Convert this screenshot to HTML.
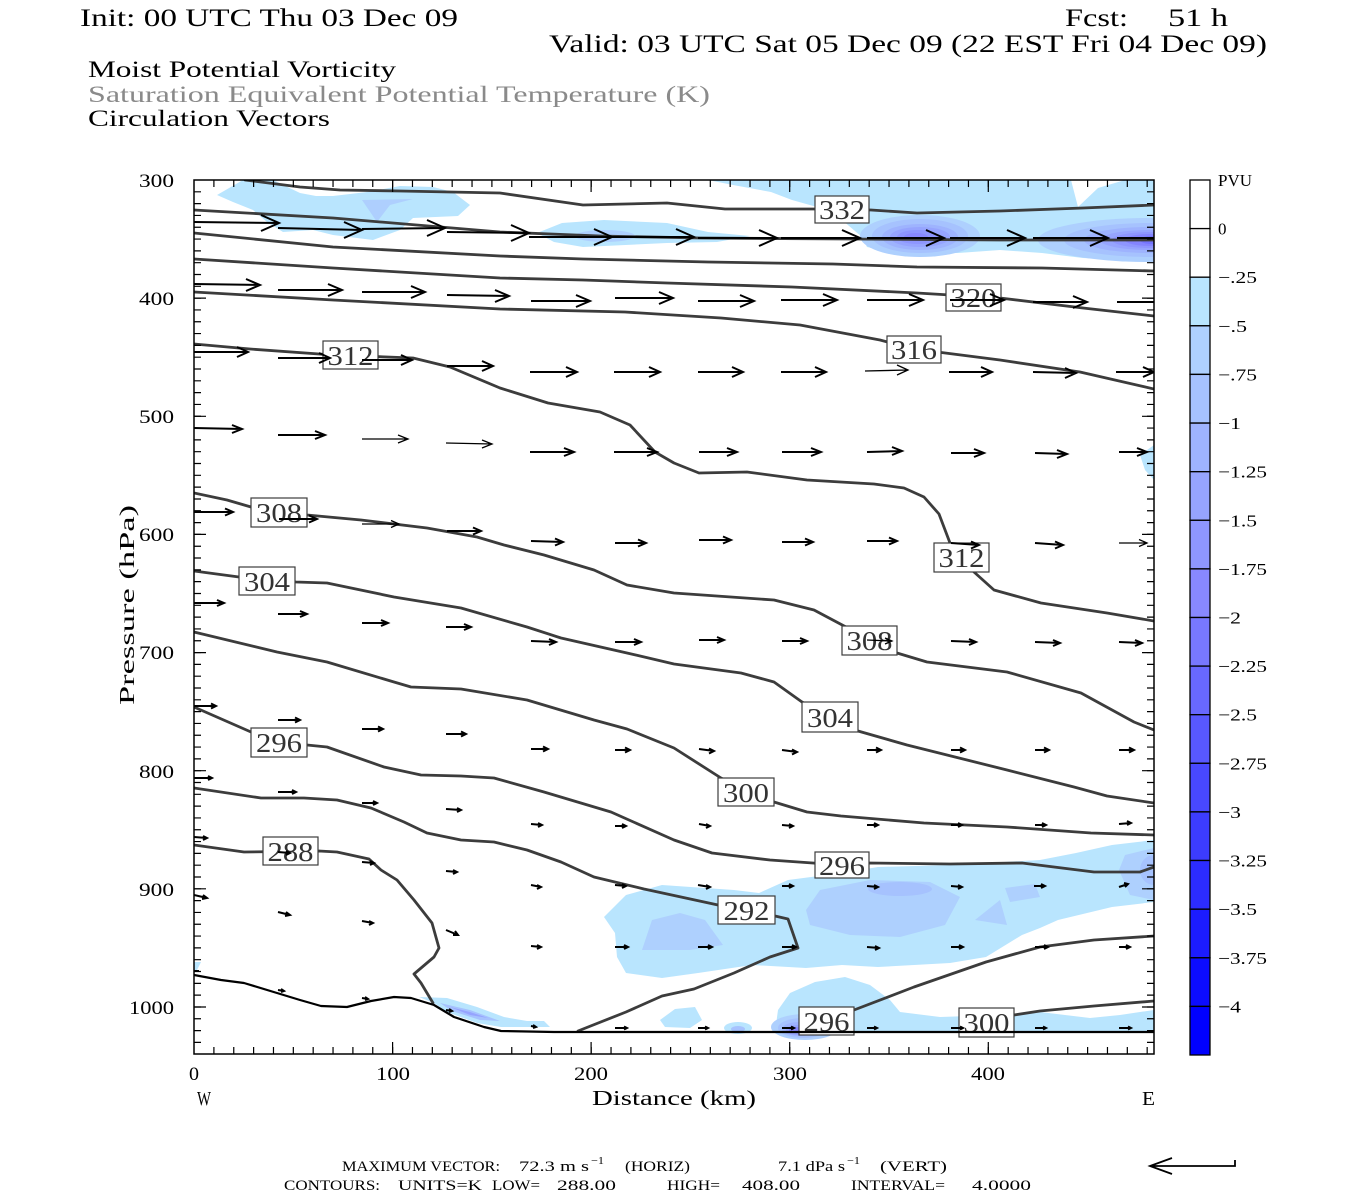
<!DOCTYPE html>
<html><head><meta charset="utf-8"><style>
html,body{margin:0;padding:0;background:#fff;}
svg{display:block;}
</style></head><body>
<svg xmlns="http://www.w3.org/2000/svg" width="1350" height="1200" viewBox="0 0 1350 1200">
<defs><clipPath id="pc"><rect x="194" y="180" width="960" height="874"/></clipPath></defs>
<rect x="0" y="0" width="1350" height="1200" fill="#fff"/>

<!-- Titles -->
<g font-family="Liberation Serif, DejaVu Serif, serif" fill="#000">
<text x="80" y="26" font-size="25" textLength="378" lengthAdjust="spacingAndGlyphs">Init: 00 UTC Thu 03 Dec 09</text>
<text x="1065" y="26" font-size="25" textLength="63" lengthAdjust="spacingAndGlyphs">Fcst:</text>
<text x="1168" y="26" font-size="25" textLength="60" lengthAdjust="spacingAndGlyphs">51 h</text>
<text x="549" y="52" font-size="25" textLength="718" lengthAdjust="spacingAndGlyphs">Valid: 03 UTC Sat 05 Dec 09 (22 EST Fri 04 Dec 09)</text>
<text x="88" y="77" font-size="23" textLength="308" lengthAdjust="spacingAndGlyphs">Moist Potential Vorticity</text>
<text x="88" y="102" font-size="23" fill="#8a8a8a" textLength="622" lengthAdjust="spacingAndGlyphs">Saturation Equivalent Potential Temperature (K)</text>
<text x="88" y="126" font-size="23" textLength="242" lengthAdjust="spacingAndGlyphs">Circulation Vectors</text>
</g>

<!-- Shading -->
<g clip-path="url(#pc)" stroke="none">
<polygon fill="#b9e5fe" points="217,195 243,180 273,180 300,193 316,196 333,196 367,192 400,186 433,187 453,192 470,205 458,216 413,218 400,230 373,240 333,235 313,230 283,232 267,222 253,210 233,202"/>
<polygon fill="#aecffe" points="362,200 413,199 390,205 377,222"/>
<polygon fill="#b9e5fe" points="708,180 1071,180 1078,207 1098,188 1125,180 1154,180 1154,262 1083,258 1042,253 1000,250 958,253 896,253 867,247 862,237 842,220 817,207 792,200 771,192 733,185"/>
<polygon fill="#b9e5fe" points="537,233 562,223 604,220 667,223 708,232 750,236 717,242 667,243 583,247 554,242"/>
<ellipse cx="605" cy="236" rx="30" ry="6" fill="#aecffe"/>
<ellipse cx="920" cy="236" rx="60" ry="21" fill="#aed0fe"/>
<ellipse cx="920" cy="236" rx="48" ry="17" fill="#a6c2fe"/>
<ellipse cx="920" cy="237" rx="38" ry="13" fill="#9eb3fe"/>
<ellipse cx="920" cy="237" rx="30" ry="10" fill="#96a4fe"/>
<ellipse cx="918" cy="237" rx="21" ry="7" fill="#8e96fe"/>
<ellipse cx="916" cy="237" rx="12" ry="4" fill="#8888fe"/>
<ellipse cx="1150" cy="240" rx="112" ry="22" fill="#aed0fe"/>
<ellipse cx="1150" cy="240" rx="86" ry="17" fill="#a6c2fe"/>
<ellipse cx="1150" cy="240" rx="66" ry="13" fill="#9eb3fe"/>
<ellipse cx="1150" cy="240" rx="50" ry="10" fill="#96a4fe"/>
<ellipse cx="1150" cy="240" rx="38" ry="8" fill="#8e96fe"/>
<ellipse cx="1150" cy="240" rx="25" ry="6" fill="#8484fe"/>
<ellipse cx="1152" cy="240" rx="12" ry="4" fill="#7474fe"/>
<polygon fill="#b9e5fe" points="1154,445 1140,455 1145,470 1154,480"/>
<polygon fill="#b9e5fe" points="604,917 626,895 662,885 734,890 759,893 788,880 842,873 878,867 950,865 986,863 1040,860 1076,853 1112,845 1154,840 1154,902 1112,907 1058,920 1040,928 1022,935 986,957 950,963 914,965 878,967 842,965 806,968 752,965 698,973 662,978 626,973 617,957 615,933"/>
<polygon fill="#aed0fe" points="652,920 680,913 705,920 723,945 690,950 642,950"/>
<polygon fill="#aed0fe" points="820,890 870,880 930,882 960,897 945,925 900,937 850,935 810,925 806,910"/>
<ellipse cx="900" cy="889" rx="32" ry="7" fill="#a6c2fe"/>
<polygon fill="#aed0fe" points="1005,888 1035,884 1040,897 1010,902"/>
<polygon fill="#aed0fe" points="1000,900 1007,925 975,920"/>
<polygon fill="#aed0fe" points="1154,848 1125,855 1119,870 1130,895 1154,900"/>
<ellipse cx="1154" cy="870" rx="14" ry="15" fill="#a6c2fe"/>
<polygon fill="#b9e5fe" points="775,1032 778,1010 790,993 815,982 845,977 870,985 890,1000 900,1012 940,1017 1000,1015 1040,1012 1090,1018 1120,1015 1140,1012 1154,1010 1154,1033 775,1033"/>
<ellipse cx="805" cy="1027" rx="34" ry="13" fill="#aed0fe"/>
<ellipse cx="803" cy="1028" rx="25" ry="10" fill="#a6c2fe"/>
<ellipse cx="800" cy="1029" rx="18" ry="7" fill="#9eb3fe"/>
<ellipse cx="798" cy="1030" rx="12" ry="5" fill="#96a4fe"/>
<ellipse cx="796" cy="1030" rx="7" ry="3" fill="#8888fe"/>
<polygon fill="#b9e5fe" points="660,1020 675,1009 695,1007 702,1020 690,1028 665,1027"/>
<ellipse cx="738" cy="1028" rx="14" ry="6" fill="#b9e5fe"/>
<ellipse cx="738" cy="1029" rx="7" ry="3" fill="#a6c2fe"/>
<polygon fill="#b9e5fe" points="419,997 447,998 477,1007 504,1017 527,1021 544,1021 550,1027 501,1027 477,1023 447,1012 434,1003"/>
<polygon fill="#a6c2fe" points="440,1003 470,1010 500,1021 480,1020 452,1011"/>
<polygon fill="#96a4fe" points="450,1007 470,1012 488,1018 470,1015"/>
<polygon fill="#b9e5fe" points="194,962 201,962 197,970 194,970"/>
</g>

<!-- Contours -->
<g clip-path="url(#pc)" fill="none" stroke="#3c3c3c" stroke-width="2.8" stroke-linejoin="round" stroke-linecap="round">
<path d="M245,180 L300,187 L340,190 L400,191 L500,193 L583,205 L667,203 L725,209 L815,209 L871,210 L917,213 L1000,211 L1083,208 L1154,205"/>
<path d="M194,210 L333,218 L500,232 L600,236 L700,238 L850,239 L1000,240 L1154,240"/>
<path d="M194,233 L333,247 L500,256 L583,259 L708,262 L833,264 L917,267 L1042,268 L1154,271"/>
<path d="M194,259 L333,268 L500,278 L583,280 L667,283 L792,287 L917,293 L1000,298 L1083,308 L1154,316"/>
<path d="M194,292 L333,300 L500,309 L625,312 L721,318 L800,325 L880,340 L914,349 L1000,360 L1080,372 L1154,389"/>
<path d="M194,344 L250,349 L333,355 L413,358 L450,367 L500,388 L548,403 L600,412 L630,425 L655,452 L674,463 L699,473 L747,472 L807,480 L874,484 L904,488 L924,497 L939,514 L950,543 L962,557 L974,572 L994,590 L1041,603 L1107,613 L1154,621"/>
<path d="M194,493 L227,500 L251,507 L307,515 L361,520 L427,528 L477,537 L504,545 L544,555 L594,570 L627,585 L674,593 L774,600 L814,610 L846,627 L870,640 L897,653 L927,662 L1007,672 L1081,693 L1134,722 L1154,730"/>
<path d="M194,571 L239,577 L296,582 L327,583 L394,597 L461,608 L527,627 L561,638 L627,653 L674,664 L741,673 L774,682 L802,702 L830,717 L858,731 L907,745 L1007,770 L1074,787 L1107,796 L1154,803"/>
<path d="M194,632 L277,652 L327,662 L394,682 L411,687 L461,689 L527,700 L594,720 L627,729 L674,748 L721,778 L746,792 L774,802 L807,812 L841,816 L924,823 L1007,827 L1091,833 L1154,835"/>
<path d="M194,707 L251,732 L279,743 L307,745 L327,747 L384,767 L421,775 L461,776 L494,778 L544,792 L611,812 L674,840 L712,853 L770,860 L841,865 L869,863 L950,864 L1022,863 L1094,872 L1140,872 L1154,867"/>
<path d="M194,788 L261,798 L304,798 L337,800 L371,808 L404,822 L427,833 L461,840 L494,842 L527,850 L561,862 L594,877 L644,889 L718,905 L746,910 L775,916 L788,919 L798,948 L770,957 L734,973 L694,989 L662,996 L626,1012 L578,1031"/>
<path d="M194,845 L244,852 L319,851 L337,852 L369,859 L381,870 L397,880 L414,900 L432,923 L439,948 L434,957 L414,974 L421,983 L427,993 L433,1003"/>
<path d="M800,1031 L827,1021 L854,1010 L914,987 L986,962 L1040,947 L1094,940 L1154,936"/>
<path d="M960,1031 L987,1022 L1014,1015 L1040,1011 L1094,1006 L1154,1001"/>
</g>

<!-- Contour labels -->
<g font-family="Liberation Serif, DejaVu Serif, serif" font-size="27" fill="#333" text-anchor="middle">
<g fill="#fff" stroke="#3c3c3c" stroke-width="1.2">
<rect x="815" y="196" width="54" height="27"/>
<rect x="946" y="284" width="55" height="27"/>
<rect x="887" y="336" width="54" height="27"/>
<rect x="323" y="341" width="55" height="28"/>
<rect x="251" y="498" width="56" height="29"/>
<rect x="934" y="543" width="55" height="29"/>
<rect x="239" y="567" width="56" height="28"/>
<rect x="842" y="626" width="55" height="29"/>
<rect x="802" y="702" width="56" height="30"/>
<rect x="251" y="728" width="56" height="29"/>
<rect x="718" y="778" width="56" height="28"/>
<rect x="263" y="837" width="55" height="28"/>
<rect x="815" y="852" width="54" height="26"/>
<rect x="718" y="896" width="57" height="28"/>
<rect x="799" y="1007" width="55" height="28"/>
<rect x="959" y="1008" width="55" height="29"/>
</g>
<text x="842" y="219" textLength="46" lengthAdjust="spacingAndGlyphs">332</text>
<text x="973.5" y="307" textLength="46" lengthAdjust="spacingAndGlyphs">320</text>
<text x="914" y="359" textLength="46" lengthAdjust="spacingAndGlyphs">316</text>
<text x="350.5" y="365" textLength="46" lengthAdjust="spacingAndGlyphs">312</text>
<text x="279" y="522" textLength="46" lengthAdjust="spacingAndGlyphs">308</text>
<text x="961.5" y="567" textLength="46" lengthAdjust="spacingAndGlyphs">312</text>
<text x="267" y="591" textLength="46" lengthAdjust="spacingAndGlyphs">304</text>
<text x="869.5" y="650" textLength="46" lengthAdjust="spacingAndGlyphs">308</text>
<text x="830" y="727" textLength="46" lengthAdjust="spacingAndGlyphs">304</text>
<text x="279" y="752" textLength="46" lengthAdjust="spacingAndGlyphs">296</text>
<text x="746" y="802" textLength="46" lengthAdjust="spacingAndGlyphs">300</text>
<text x="290.5" y="861" textLength="46" lengthAdjust="spacingAndGlyphs">288</text>
<text x="842" y="875" textLength="46" lengthAdjust="spacingAndGlyphs">296</text>
<text x="746.5" y="920" textLength="46" lengthAdjust="spacingAndGlyphs">292</text>
<text x="826.5" y="1031" textLength="46" lengthAdjust="spacingAndGlyphs">296</text>
<text x="986.5" y="1032" textLength="46" lengthAdjust="spacingAndGlyphs">300</text>
</g>

<!-- Ground line -->
<path clip-path="url(#pc)" fill="none" stroke="#000" stroke-width="2.2" stroke-linejoin="round" d="M194,975 L221,980 L244,983 L277,993 L300,1000 L321,1006 L347,1007 L371,1001 L394,997 L411,998 L434,1005 L454,1017 L484,1027 L501,1031 L554,1032 L1154,1032"/>

<!-- Vectors -->
<g clip-path="url(#pc)" fill="none" stroke="#000" stroke-width="2" stroke-linecap="butt" stroke-linejoin="miter">
<path d="M194,222 L279,223 M261,215 L279,223 L261,231"/>
<path d="M278,228 L362,230 M344,222 L362,230 L344,238"/>
<path d="M362,229 L445,228 M427,220 L445,228 L427,236"/>
<path d="M447,232 L529,233 M511,225 L529,233 L511,241"/>
<path d="M529,237 L612,237 M594,229 L612,237 L594,245"/>
<path d="M612,237 L694,237 M676,229 L694,237 L676,245"/>
<path d="M698,238 L777,238 M759,230 L777,238 L759,246"/>
<path d="M781,238 L860,238 M842,230 L860,238 L842,246"/>
<path d="M867,238 L944,238 M926,230 L944,238 L926,246"/>
<path d="M950,238 L1025,238 M1007,230 L1025,238 L1007,246"/>
<path d="M1033,238 L1108,238 M1090,230 L1108,238 L1090,246"/>
<path d="M1117,238 L1196,238"/>
<path d="M194,284 L260,285 M246,279 L260,285 L246,291"/>
<path d="M278,290 L342,290 M328,284 L342,290 L328,296"/>
<path d="M362,292 L425,292 M411,286 L425,292 L411,298"/>
<path d="M447,295 L509,296 M495,290 L509,296 L495,302"/>
<path d="M531,301 L590,301 M576,295 L590,301 L576,307"/>
<path d="M615,298 L673,298 M659,292 L673,298 L659,304"/>
<path d="M698,301 L754,301 M740,295 L754,301 L740,307"/>
<path d="M781,300 L837,300 M823,294 L837,300 L823,306"/>
<path d="M867,300 L923,300 M909,294 L923,300 L909,306"/>
<path d="M950,300 L1004,300 M990,294 L1004,300 L990,306"/>
<path d="M1033,302 L1087,302 M1073,296 L1087,302 L1073,308"/>
<path d="M1117,302 L1172,302"/>
<path d="M194,352 L248,352 M237,347 L248,352 L237,357"/>
<path d="M278,358 L330,358 M319,353 L330,358 L319,363"/>
<path d="M362,360 L412,360 M401,355 L412,360 L401,365"/>
<path d="M447,366 L493,366 M482,361 L493,366 L482,371"/>
<path d="M530,372 L577,372 M566,367 L577,372 L566,377"/>
<path d="M614,372 L660,372 M649,367 L660,372 L649,377"/>
<path d="M698,372 L743,372 M732,367 L743,372 L732,377"/>
<path d="M781,372 L826,372 M815,367 L826,372 L815,377"/>
<path stroke-width="1.3" d="M865,371 L908,370 M897,365 L908,370 L897,375"/>
<path d="M949,372 L992,372 M981,367 L992,372 L981,377"/>
<path d="M1033,372 L1076,373 M1065,368 L1076,373 L1065,378"/>
<path d="M1116,372 L1154,372 M1143,367 L1154,372 L1143,377"/>
<path d="M194,428 L242,429 M232,425 L242,429 L232,433"/>
<path d="M278,435 L325,435 M315,431 L325,435 L315,439"/>
<path stroke-width="1.3" d="M362,439 L408,439 M398,435 L408,439 L398,443"/>
<path stroke-width="1.3" d="M446,443 L492,444 M482,440 L492,444 L482,448"/>
<path d="M530,452 L574,452 M564,448 L574,452 L564,456"/>
<path d="M614,452 L657,452 M647,448 L657,452 L647,456"/>
<path d="M699,452 L737,452 M727,448 L737,452 L727,456"/>
<path d="M782,452 L821,452 M811,448 L821,452 L811,456"/>
<path d="M867,452 L902,451 M892,447 L902,451 L892,455"/>
<path d="M951,453 L984,453 M974,449 L984,453 L974,457"/>
<path d="M1035,453 L1067,454 M1057,450 L1067,454 L1057,458"/>
<path d="M1119,452 L1147,452 M1137,448 L1147,452 L1137,456"/>
<path d="M194,512 L233,512 M225,508.5 L233,512 L225,515.5"/>
<path d="M279,519 L317,519 M309,515.5 L317,519 L309,522.5"/>
<path stroke-width="1.3" d="M362,524 L399,524 M391,520.5 L399,524 L391,527.5"/>
<path d="M447,531 L481,531 M473,527.5 L481,531 L473,534.5"/>
<path d="M531,541 L563,542 M555,538.5 L563,542 L555,545.5"/>
<path d="M615,543 L646,543 M638,539.5 L646,543 L638,546.5"/>
<path d="M699,540 L731,540 M723,536.5 L731,540 L723,543.5"/>
<path d="M782,542 L813,542 M805,538.5 L813,542 L805,545.5"/>
<path d="M867,541 L897,541 M889,537.5 L897,541 L889,544.5"/>
<path d="M951,543 L979,545 M971,541.5 L979,545 L971,548.5"/>
<path d="M1035,543 L1063,545 M1055,541.5 L1063,545 L1055,548.5"/>
<path stroke-width="1.3" d="M1119,543 L1147,543 M1139,539.5 L1147,543 L1139,546.5"/>
<path d="M194,603 L224,603 M217,600 L224,603 L217,606"/>
<path d="M278,614 L307,614 M300,611 L307,614 L300,617"/>
<path d="M362,623 L388,623 M381,620 L388,623 L381,626"/>
<path d="M446,627 L471,627 M464,624 L471,627 L464,630"/>
<path d="M531,641 L556,642 M549,639 L556,642 L549,645"/>
<path d="M615,642 L641,642 M634,639 L641,642 L634,645"/>
<path d="M699,640 L724,640 M717,637 L724,640 L717,643"/>
<path d="M782,641 L807,641 M800,638 L807,641 L800,644"/>
<path stroke-width="1.3" d="M867,640 L892,641 M885,638 L892,641 L885,644"/>
<path d="M951,641 L976,642 M969,639 L976,642 L969,645"/>
<path d="M1035,642 L1060,643 M1053,640 L1060,643 L1053,646"/>
<path d="M1119,642 L1142,643 M1135,640 L1142,643 L1135,646"/>
<path d="M194,706 L216,706 M211,703.5 L216,706 L211,708.5"/>
<path d="M278,720 L300,720 M295,717.5 L300,720 L295,722.5"/>
<path d="M362,729 L383,729 M378,726.5 L383,729 L378,731.5"/>
<path d="M446,734 L466,734 M461,731.5 L466,734 L461,736.5"/>
<path d="M531,749 L548,749 M543,746.5 L548,749 L543,751.5"/>
<path d="M615,750 L630,750 M625,747.5 L630,750 L625,752.5"/>
<path d="M699,749 L714,751 M709,748.5 L714,751 L709,753.5"/>
<path d="M782,750 L797,752 M792,749.5 L797,752 L792,754.5"/>
<path d="M867,750 L881,750 M876,747.5 L881,750 L876,752.5"/>
<path d="M951,750 L965,750 M960,747.5 L965,750 L960,752.5"/>
<path d="M1035,750 L1049,750 M1044,747.5 L1049,750 L1044,752.5"/>
<path d="M1119,750 L1134,750 M1129,747.5 L1134,750 L1129,752.5"/>
<path d="M194,778 L212,778 M208,776 L212,778 L208,780"/>
<path d="M278,792 L296,792 M292,790 L296,792 L292,794"/>
<path d="M362,803 L377,803 M373,801 L377,803 L373,805"/>
<path d="M446,809 L461,810 M457,808 L461,810 L457,812"/>
<path d="M531,824 L542,825 M538,823 L542,825 L538,827"/>
<path d="M615,826 L626,826 M622,824 L626,826 L622,828"/>
<path d="M699,824 L710,826 M706,824 L710,826 L706,828"/>
<path d="M782,825 L793,826 M789,824 L793,826 L789,828"/>
<path d="M867,825 L878,825 M874,823 L878,825 L874,827"/>
<path d="M951,825 L962,825 M958,823 L962,825 L958,827"/>
<path d="M1035,825 L1046,825 M1042,823 L1046,825 L1042,827"/>
<path d="M1119,824 L1131,823 M1127,821 L1131,823 L1127,825"/>
<path d="M194,837 L207,838 M203,836 L207,838 L203,840"/>
<path d="M278,852 L290,853 M286,851 L290,853 L286,855"/>
<path d="M362,862 L374,863 M370,861 L374,863 L370,865"/>
<path d="M446,871 L457,872 M453,870 L457,872 L453,874"/>
<path d="M531,885 L541,887 M537,885 L541,887 L537,889"/>
<path d="M615,885 L626,886 M622,884 L626,886 L622,888"/>
<path d="M698,885 L710,887 M706,885 L710,887 L706,889"/>
<path d="M782,886 L793,886 M789,884 L793,886 L789,888"/>
<path d="M867,886 L878,887 M874,885 L878,887 L874,889"/>
<path d="M951,886 L962,887 M958,885 L962,887 L958,889"/>
<path d="M1034,886 L1045,886 M1041,884 L1045,886 L1041,888"/>
<path d="M1119,887 L1128,884 M1124,883 L1128,884 L1125,887"/>
<path d="M194,895 L207,898 M203,895 L207,898 L202,899"/>
<path d="M278,912 L290,915 M286,912 L290,915 L285,916"/>
<path d="M362,921 L373,923 M369,921 L373,923 L369,925"/>
<path d="M446,930 L458,935 M455,931 L458,935 L453,935"/>
<path d="M531,946 L541,947 M537,945 L541,947 L537,949"/>
<path d="M615,947 L628,947 M624,945 L628,947 L624,949"/>
<path d="M698,947 L712,947 M708,945 L712,947 L708,949"/>
<path d="M782,947 L796,947 M792,945 L796,947 L792,949"/>
<path d="M867,947 L879,948 M875,946 L879,948 L875,950"/>
<path d="M951,947 L963,947 M959,945 L963,947 L959,949"/>
<path d="M1035,947 L1048,947 M1044,945 L1048,947 L1044,949"/>
<path d="M1119,947 L1130,947 M1126,945 L1130,947 L1126,949"/>
<path d="M194,971 L199,971"/>
<path d="M278,990 L284,991 M281,989 L284,991 L281,992"/>
<path d="M362,998 L368,999 M365,997 L368,999 L365,1000"/>
<path d="M446,1010 L452,1011 M449,1009 L452,1011 L449,1012"/>
<path d="M531,1026 L536,1027 M533,1025 L536,1027 L533,1028"/>
<path d="M615,1028 L627,1028 M624,1026.5 L627,1028 L624,1029.5"/>
<path d="M698,1028 L708,1028 M705,1026.5 L708,1028 L705,1029.5"/>
<path d="M782,1028 L794,1028 M791,1026.5 L794,1028 L791,1029.5"/>
<path d="M867,1028 L877,1028 M874,1026.5 L877,1028 L874,1029.5"/>
<path d="M951,1028 L963,1028 M960,1026.5 L963,1028 L960,1029.5"/>
<path d="M1035,1028 L1046,1028 M1043,1026.5 L1046,1028 L1043,1029.5"/>
<path d="M1119,1028 L1131,1028 M1128,1026.5 L1131,1028 L1128,1029.5"/>
</g>

<!-- Frame and ticks -->
<rect x="194" y="180" width="960" height="874" fill="none" stroke="#000" stroke-width="1.5"/>
<g stroke="#000" fill="none">
<line x1="197.5" y1="191.2" x2="197.5" y2="1050" stroke-width="7" stroke-dasharray="1.2 10.614"/>
<line x1="1150.5" y1="191.2" x2="1150.5" y2="1050" stroke-width="7" stroke-dasharray="1.2 10.614"/>
<line x1="213.3" y1="183.5" x2="1150" y2="183.5" stroke-width="7" stroke-dasharray="1.2 18.657"/>
<line x1="213.3" y1="1050.5" x2="1150" y2="1050.5" stroke-width="7" stroke-dasharray="1.2 18.657"/>
<path stroke-width="1.2" d="M194,298.1 h12 M194,416.3 h12 M194,534.4 h12 M194,652.6 h12 M194,770.7 h12 M194,888.8 h12 M194,1007 h12
M1154,298.1 h-12 M1154,416.3 h-12 M1154,534.4 h-12 M1154,652.6 h-12 M1154,770.7 h-12 M1154,888.8 h-12 M1154,1007 h-12
M392.6,180 v12 M591.1,180 v12 M789.7,180 v12 M988.3,180 v12
M392.6,1054 v-12 M591.1,1054 v-12 M789.7,1054 v-12 M988.3,1054 v-12"/>
</g>

<!-- Axis labels -->
<g font-family="Liberation Serif, DejaVu Serif, serif" font-size="19" fill="#000">
<text x="139" y="187" textLength="35" lengthAdjust="spacingAndGlyphs">300</text>
<text x="139" y="305" textLength="35" lengthAdjust="spacingAndGlyphs">400</text>
<text x="139" y="423" textLength="35" lengthAdjust="spacingAndGlyphs">500</text>
<text x="139" y="541" textLength="35" lengthAdjust="spacingAndGlyphs">600</text>
<text x="139" y="659" textLength="35" lengthAdjust="spacingAndGlyphs">700</text>
<text x="139" y="778" textLength="35" lengthAdjust="spacingAndGlyphs">800</text>
<text x="139" y="896" textLength="35" lengthAdjust="spacingAndGlyphs">900</text>
<text x="129" y="1014" textLength="45" lengthAdjust="spacingAndGlyphs">1000</text>
<text x="189" y="1080" textLength="10" lengthAdjust="spacingAndGlyphs">0</text>
<text x="376" y="1080" textLength="34" lengthAdjust="spacingAndGlyphs">100</text>
<text x="574" y="1080" textLength="34" lengthAdjust="spacingAndGlyphs">200</text>
<text x="773" y="1080" textLength="34" lengthAdjust="spacingAndGlyphs">300</text>
<text x="971" y="1080" textLength="34" lengthAdjust="spacingAndGlyphs">400</text>
<text x="197" y="1105" font-size="20" textLength="14" lengthAdjust="spacingAndGlyphs">W</text>
<text x="1142" y="1105" font-size="20" textLength="13" lengthAdjust="spacingAndGlyphs">E</text>
<text x="592" y="1105" font-size="21" textLength="164" lengthAdjust="spacingAndGlyphs">Distance (km)</text>
<text transform="translate(134,705) rotate(-90)" font-size="21" textLength="200" lengthAdjust="spacingAndGlyphs">Pressure (hPa)</text>
</g>

<!-- Colorbar -->
<g stroke="#000" stroke-width="1.3">
<rect x="1190" y="180" width="20" height="48.6" fill="#ffffff"/>
<rect x="1190" y="228.6" width="20" height="48.6" fill="#ffffff"/>
<rect x="1190" y="277.2" width="20" height="48.6" fill="#b9e5fe"/>
<rect x="1190" y="325.8" width="20" height="48.6" fill="#aed0fe"/>
<rect x="1190" y="374.4" width="20" height="48.6" fill="#a6c2fe"/>
<rect x="1190" y="423.1" width="20" height="48.6" fill="#9eb3fe"/>
<rect x="1190" y="471.7" width="20" height="48.6" fill="#96a4fe"/>
<rect x="1190" y="520.3" width="20" height="48.6" fill="#8e96fe"/>
<rect x="1190" y="568.9" width="20" height="48.6" fill="#8888fe"/>
<rect x="1190" y="617.5" width="20" height="48.6" fill="#7878fe"/>
<rect x="1190" y="666.1" width="20" height="48.6" fill="#6868fe"/>
<rect x="1190" y="714.7" width="20" height="48.6" fill="#5858fe"/>
<rect x="1190" y="763.3" width="20" height="48.6" fill="#4848fe"/>
<rect x="1190" y="811.9" width="20" height="48.6" fill="#3c3cfe"/>
<rect x="1190" y="860.5" width="20" height="48.6" fill="#2c2cfe"/>
<rect x="1190" y="909.2" width="20" height="48.6" fill="#1c1cfe"/>
<rect x="1190" y="957.8" width="20" height="48.6" fill="#0c0cfe"/>
<rect x="1190" y="1006.4" width="20" height="48.6" fill="#0000fe"/>
</g>
<g font-family="Liberation Serif, DejaVu Serif, serif" font-size="17" fill="#000">
<text x="1218" y="186" textLength="34" lengthAdjust="spacingAndGlyphs">PVU</text>
<text x="1218" y="234.6">0</text>
<text x="1218" y="283.2" textLength="39" lengthAdjust="spacingAndGlyphs">−.25</text>
<text x="1218" y="331.8" textLength="29" lengthAdjust="spacingAndGlyphs">−.5</text>
<text x="1218" y="380.4" textLength="39" lengthAdjust="spacingAndGlyphs">−.75</text>
<text x="1218" y="429.1" textLength="23" lengthAdjust="spacingAndGlyphs">−1</text>
<text x="1218" y="477.7" textLength="49" lengthAdjust="spacingAndGlyphs">−1.25</text>
<text x="1218" y="526.3" textLength="39" lengthAdjust="spacingAndGlyphs">−1.5</text>
<text x="1218" y="574.9" textLength="49" lengthAdjust="spacingAndGlyphs">−1.75</text>
<text x="1218" y="623.5" textLength="23" lengthAdjust="spacingAndGlyphs">−2</text>
<text x="1218" y="672.1" textLength="49" lengthAdjust="spacingAndGlyphs">−2.25</text>
<text x="1218" y="720.7" textLength="39" lengthAdjust="spacingAndGlyphs">−2.5</text>
<text x="1218" y="769.3" textLength="49" lengthAdjust="spacingAndGlyphs">−2.75</text>
<text x="1218" y="817.9" textLength="23" lengthAdjust="spacingAndGlyphs">−3</text>
<text x="1218" y="866.5" textLength="49" lengthAdjust="spacingAndGlyphs">−3.25</text>
<text x="1218" y="915.2" textLength="39" lengthAdjust="spacingAndGlyphs">−3.5</text>
<text x="1218" y="963.8" textLength="49" lengthAdjust="spacingAndGlyphs">−3.75</text>
<text x="1218" y="1012.4" textLength="23" lengthAdjust="spacingAndGlyphs">−4</text>
</g>

<!-- Footer -->
<g font-family="Liberation Serif, DejaVu Serif, serif" font-size="15" fill="#000">
<text x="342" y="1171" textLength="158" lengthAdjust="spacingAndGlyphs">MAXIMUM VECTOR:</text>
<text x="519" y="1171" textLength="70" lengthAdjust="spacingAndGlyphs">72.3 m s</text>
<text x="591" y="1164" font-size="11" textLength="13" lengthAdjust="spacingAndGlyphs">−1</text>
<text x="625" y="1171" textLength="65" lengthAdjust="spacingAndGlyphs">(HORIZ)</text>
<text x="778" y="1171" textLength="67" lengthAdjust="spacingAndGlyphs">7.1 dPa s</text>
<text x="847" y="1164" font-size="11" textLength="13" lengthAdjust="spacingAndGlyphs">−1</text>
<text x="880" y="1171" textLength="67" lengthAdjust="spacingAndGlyphs">(VERT)</text>
<text x="284" y="1190" textLength="96" lengthAdjust="spacingAndGlyphs">CONTOURS:</text>
<text x="398" y="1190" textLength="84" lengthAdjust="spacingAndGlyphs">UNITS=K</text>
<text x="492" y="1190" textLength="48" lengthAdjust="spacingAndGlyphs">LOW=</text>
<text x="557" y="1190" textLength="59" lengthAdjust="spacingAndGlyphs">288.00</text>
<text x="667" y="1190" textLength="53" lengthAdjust="spacingAndGlyphs">HIGH=</text>
<text x="742" y="1190" textLength="58" lengthAdjust="spacingAndGlyphs">408.00</text>
<text x="851" y="1190" textLength="94" lengthAdjust="spacingAndGlyphs">INTERVAL=</text>
<text x="972" y="1190" textLength="59" lengthAdjust="spacingAndGlyphs">4.0000</text>
</g>
<path fill="none" stroke="#000" stroke-width="1.8" d="M1150,1166 L1235,1166 L1235,1160 M1172,1158 L1150,1166 L1172,1174"/>
</svg>
</body></html>
